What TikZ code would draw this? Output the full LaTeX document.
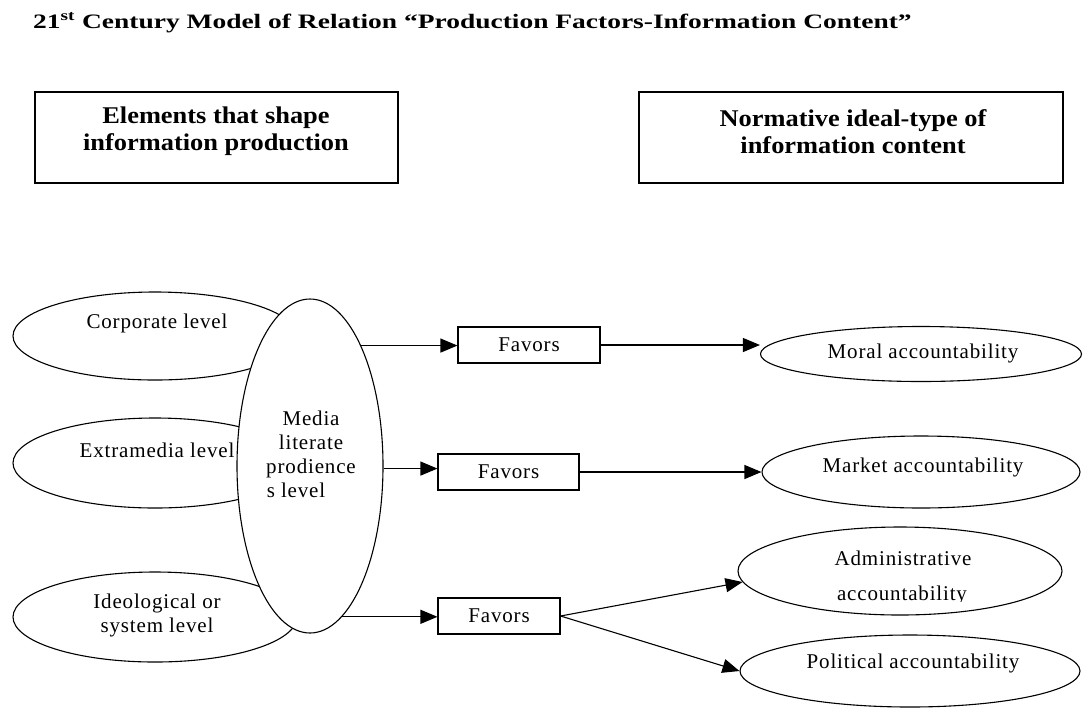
\documentclass[tikz,border=0pt]{standalone}
\usepackage{fontspec}
\setmainfont{Liberation Serif}
\newfontfamily\spaced[LetterSpace=4]{Liberation Serif}
\usetikzlibrary{shapes.geometric,arrows.meta,calc}

\begin{document}
\begin{tikzpicture}[x=1pt,y=-1pt,
  every node/.style={font=\spaced\fontsize{21}{24}\selectfont},
  oval/.style={draw, ellipse, line width=1.1pt, inner sep=0pt},
  favbox/.style={draw, rectangle, line width=1.1pt, minimum height=36pt, inner sep=0pt},
  headbox/.style={draw, rectangle, line width=1.1pt, minimum height=91pt, inner sep=0pt},
  conn/.style={line width=1.1pt, -{Triangle[length=17pt,width=14pt]}},
  lab/.style={align=center, inner sep=0pt},
  headtext/.style={lab, font=\bfseries\fontsize{24}{27}\selectfont}]

\useasboundingbox (0,0) rectangle (1083,710);
\fill[white] (0,0) rectangle (1083,710);

% title
\node[anchor=base west, inner sep=0pt, font=\bfseries\fontsize{20.5}{24}\selectfont] (title) at (33,28)
  {\scalebox{1.34}[1]{21\textsuperscript{st} Century Model of Relation “Production Factors-Information Content”}};

% column headers
\node[headbox, minimum width=363pt] (hl) at (216.5,137.5) {};
\node[headtext] (hlt) at (216,131.5) {\scalebox{1.1}[1]{Elements that shape}\\\scalebox{1.1}[1]{information production}};
\node[headbox, minimum width=424pt] (hr) at (851,137.5) {};
\node[headtext] (hrt) at (853,131.5) {\scalebox{1.1}[1]{Normative ideal-type of}\\\scalebox{1.1}[1]{information content}};

% levels that shape production
\node[oval, minimum width=284pt, minimum height=88pt] (corp) at (155,336) {};
\node[lab] (corpt) at (157,323) {Corporate level};
\node[oval, minimum width=284pt, minimum height=90pt] (extra) at (155,463) {};
\node[lab] (extrat) at (157,450) {Extramedia level};
\node[oval, minimum width=284pt, minimum height=90pt] (ideo) at (155,617) {};
\node[lab] (ideot) at (157,615) {Ideological or\\system level};

% central level
\node[oval, fill=white, minimum width=146pt, minimum height=334pt] (media) at (310,466) {};
\node[lab] (mediat) at (311,454) {Media\\literate\\prodience\\s level\hspace*{30pt}};

% intermediate boxes
\node[favbox, minimum width=142pt] (fav1) at (529,345) {Favors};
\node[favbox, minimum width=141pt] (fav2) at (508.5,472) {Favors};
\node[favbox, minimum width=122pt] (fav3) at (499,616) {Favors};

% accountability types
\node[oval, minimum width=321pt, minimum height=55pt] (moral) at (921,354) {};
\node[lab] (moralt) at (923,353) {Moral accountability};
\node[oval, minimum width=318pt, minimum height=72pt] (market) at (921,472) {};
\node[lab] (marktt) at (923,467) {Market accountability};
\node[oval, minimum width=324pt, minimum height=88pt] (admin) at (900,571) {};
\node[lab, anchor=base] (admint) at (903,565) {Administrative};
\begin{scope}
  \clip (740,575) rectangle (1060,601);
  \node[lab, anchor=base] (admint2) at (902,600) {accountability};
\end{scope}
\node[oval, minimum width=340pt, minimum height=72pt] (polit) at (910,671) {};
\node[lab] (politt) at (913,663) {Political accountability};

% connectors
\draw[conn] (media.67) -- (media.67 -| fav1.west);
\draw[conn] (fav1.east) -- (fav1.east -| moral.west);
\draw[conn] (media.-2) -- (media.-2 -| fav2.west);
\draw[conn] (fav2.east) -- (market.west);
\draw[conn] (media.-78) -- (media.-78 -| fav3.west);
\draw[conn] (fav3.east) -- (admin.184);
\draw[conn] (fav3.east) -- (polit.west);
\end{tikzpicture}
\end{document}
